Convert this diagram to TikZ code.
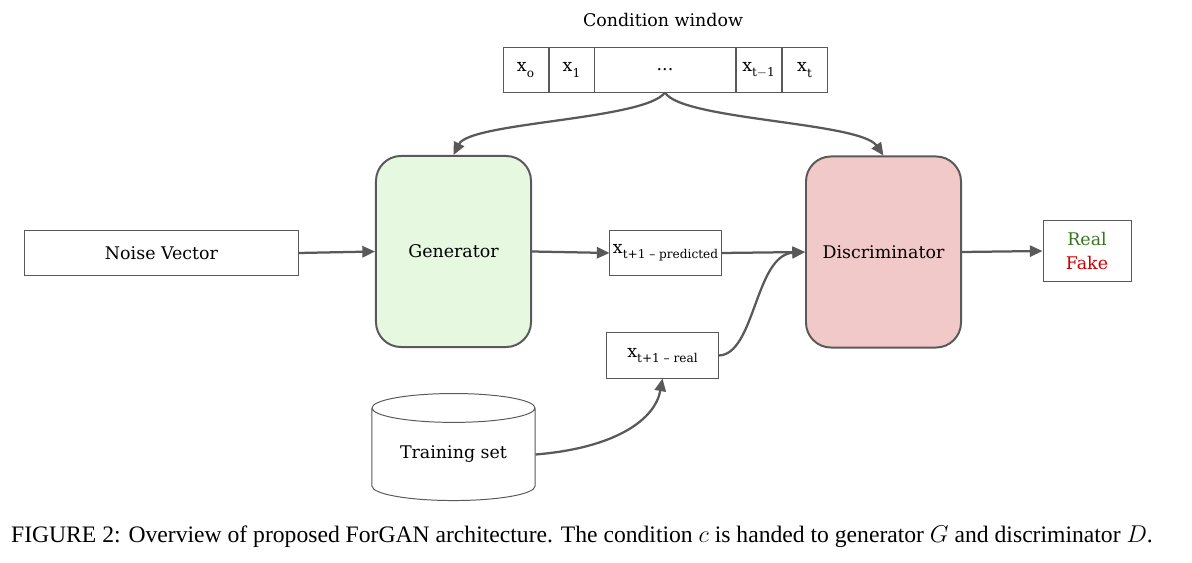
\documentclass[tikz,border=0pt]{standalone}
\usepackage{fontspec}
\setmainfont{DejaVu Serif}
\newfontfamily\capfont{Liberation Serif}
\usetikzlibrary{arrows.meta,shapes.geometric,positioning}

\definecolor{linegray}{HTML}{595959}
\definecolor{genfill}{HTML}{E6F8E0}
\definecolor{disfill}{HTML}{F2C9C9}
\definecolor{realgreen}{HTML}{38761D}
\definecolor{fakered}{HTML}{CC0000}

\newcommand{\lowsub}[1]{\raisebox{-0.6ex}{\fontsize{8.6}{10}\selectfont #1}}

\begin{document}
\begin{tikzpicture}[
  x=0.025cm, y=-0.025cm,
  font=\fontsize{12.4}{14}\selectfont,
  flat/.style={draw=linegray, line width=0.7pt, inner sep=0pt},
  cell/.style={flat, minimum height=1.1cm, minimum width=1.125cm},
  net/.style={draw=linegray, line width=1.4pt, rounded corners=0.625cm,
    minimum width=3.875cm, minimum height=4.775cm},
  flow/.style={draw=linegray, line width=1.6pt,
    -{Triangle[length=9pt,width=8pt]}},
]
  \useasboundingbox (0,0) rectangle (1192,563);

  % condition window
  \node (cwtitle) at (663,20) {Condition window};
  \node[cell] (w0) at (525.5,70) {x\lowsub{o}};
  \node[cell, right=0pt of w0] (w1) {x\lowsub{1}};
  \node[cell, minimum width=3.5cm, right=0pt of w1] (wdots) {...};
  \node[cell, right=0pt of wdots] (wt1) {x\lowsub{t$-$1}};
  \node[cell, right=0pt of wt1] (wt) {x\lowsub{t}};

  % networks
  \node[net, fill=genfill] (gen) at (453.5,251.5) {Generator};
  \node[net, fill=disfill] (disc) at (883.5,252) {Discriminator};

  % data boxes
  \node[flat, minimum width=6.825cm, minimum height=1.1cm] (noise) at (161.5,253) {Noise Vector};
  \node[flat, minimum width=2.775cm, minimum height=1.1cm] (pred) at (665.5,253) {x\lowsub{t+1 -- predicted}};
  \node[flat, minimum width=2.775cm, minimum height=1.125cm] (real) at (662.5,355.5) {x\lowsub{t+1 -- real}};
  \node[flat, minimum width=2.2cm, minimum height=1.5cm, align=center] (out) at (1087,251)
    {\textcolor{realgreen}{Real}\\[3pt]\textcolor{fakered}{Fake}};
  \node[flat, cylinder, shape border rotate=90, aspect=0.27,
    minimum width=4.075cm, minimum height=2.675cm] (train) at (453.5,454.5) {Training set};

  % connections
  \draw[flow] (wdots.south) .. controls (645,120) and (470,122) .. (gen.north);
  \draw[flow] (wdots.south) .. controls (681,120) and (860,122) .. (disc.north);
  \draw[flow] (noise.east) -- (gen.west);
  \draw[flow] (gen.east) -- (pred.west);
  \draw[flow] (pred.east) -- (disc.west);
  \draw[flow] (real.east) .. controls (755,355) and (755,255) .. (disc.west);
  \draw[flow] (train.east) .. controls (615,448) and (655,420) .. (real.south);
  \draw[flow] (disc.east) -- (out.west);

  \node[font=\capfont\fontsize{16.8}{19}\selectfont] (caption) at (582,537)
    {FIGURE 2: Overview of proposed ForGAN architecture. The condition $c$ is handed to generator $G$ and discriminator $D$.};
\end{tikzpicture}
\end{document}
